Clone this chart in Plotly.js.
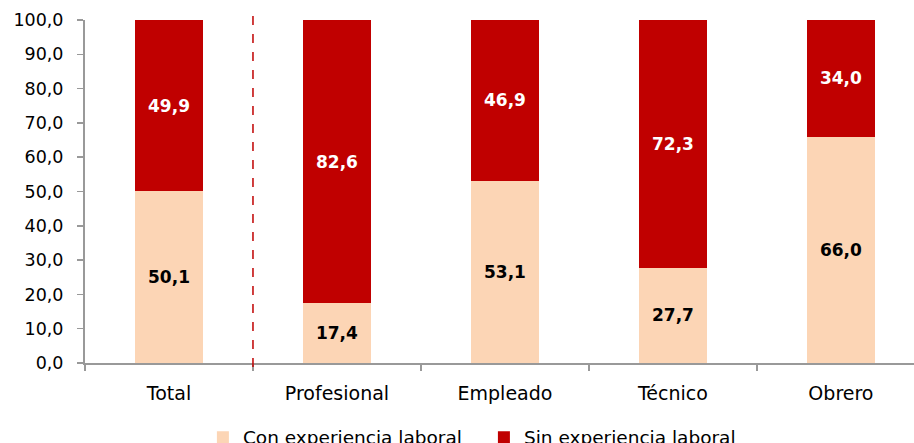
<!DOCTYPE html>
<html>
<head>
<meta charset="utf-8">
<script src="https://cdn.plot.ly/plotly-3.0.1.min.js"></script>
<style>html,body{margin:0;padding:0;background:#fff;}#chart{width:914px;height:443px;}</style>
</head>
<body>
<div id="chart"></div>
<script>
const categories = ["Total", "Profesional", "Empleado", "Técnico", "Obrero"];
const conExperiencia = [50.1, 17.4, 53.1, 27.7, 66.0];
const sinExperiencia = [49.9, 82.6, 46.9, 72.3, 34.0];
const yTicks = [0, 10, 20, 30, 40, 50, 60, 70, 80, 90, 100];

const fmt = v => v.toFixed(1).replace('.', ',');

const traces = [
  {
    type: 'bar', name: 'Con experiencia laboral', x: categories, y: conExperiencia,
    marker: {color: '#FCD5B5'}, width: 0.4,
    text: conExperiencia.map(fmt), textposition: 'inside', insidetextanchor: 'middle',
    textfont: {family: 'DejaVu Sans', size: 17, color: '#000000', weight: 'bold'},
    hoverinfo: 'skip'
  },
  {
    type: 'bar', name: 'Sin experiencia laboral', x: categories, y: sinExperiencia,
    marker: {color: '#C00000'}, width: 0.4,
    text: sinExperiencia.map(fmt), textposition: 'inside', insidetextanchor: 'middle',
    textfont: {family: 'DejaVu Sans', size: 17, color: '#ffffff', weight: 'bold'},
    hoverinfo: 'skip'
  }
];

const layout = {
  width: 914, height: 443,
  margin: {l: 85, r: 0, t: 20, b: 80},
  barmode: 'stack',
  paper_bgcolor: '#ffffff', plot_bgcolor: '#ffffff',
  font: {family: 'DejaVu Sans', size: 17, color: '#000000'},
  showlegend: true,
  legend: {
    orientation: 'h', xref: 'container', yref: 'container',
    x: 0.222, xanchor: 'left', y: 0.012, yanchor: 'middle',
    font: {family: 'DejaVu Sans', size: 18.5, color: '#000000'},
    traceorder: 'normal', itemclick: false,
    entrywidth: 236, entrywidthmode: 'pixels'
  },
  xaxis: {
    type: 'category', range: [-0.5, 4.435],
    showline: true, linecolor: '#999999', linewidth: 2,
    ticks: 'outside', ticklen: 6, tickcolor: '#999999', tickwidth: 1.5,
    tickson: 'boundaries', showgrid: false, zeroline: false,
    tickfont: {family: 'DejaVu Sans', size: 19, color: '#000000'},
    ticklabelstandoff: 12
  },
  yaxis: {
    range: [0, 100], tickvals: yTicks, ticktext: yTicks.map(fmt),
    showline: true, linecolor: '#999999', linewidth: 2,
    ticks: 'outside', ticklen: 6, tickcolor: '#999999', tickwidth: 1.5,
    showgrid: false, zeroline: false,
    tickfont: {family: 'DejaVu Sans', size: 17.5, color: '#000000'},
    ticklabelstandoff: 10
  },
  shapes: [{
    type: 'line', xref: 'x', yref: 'paper', x0: 0.5, x1: 0.5, y0: -0.012, y1: 1.012,
    line: {color: '#C00000', width: 1.5, dash: 'dash'}
  }]
};

Plotly.newPlot('chart', traces, layout, {displayModeBar: false, staticPlot: true});
</script>
</body>
</html>
